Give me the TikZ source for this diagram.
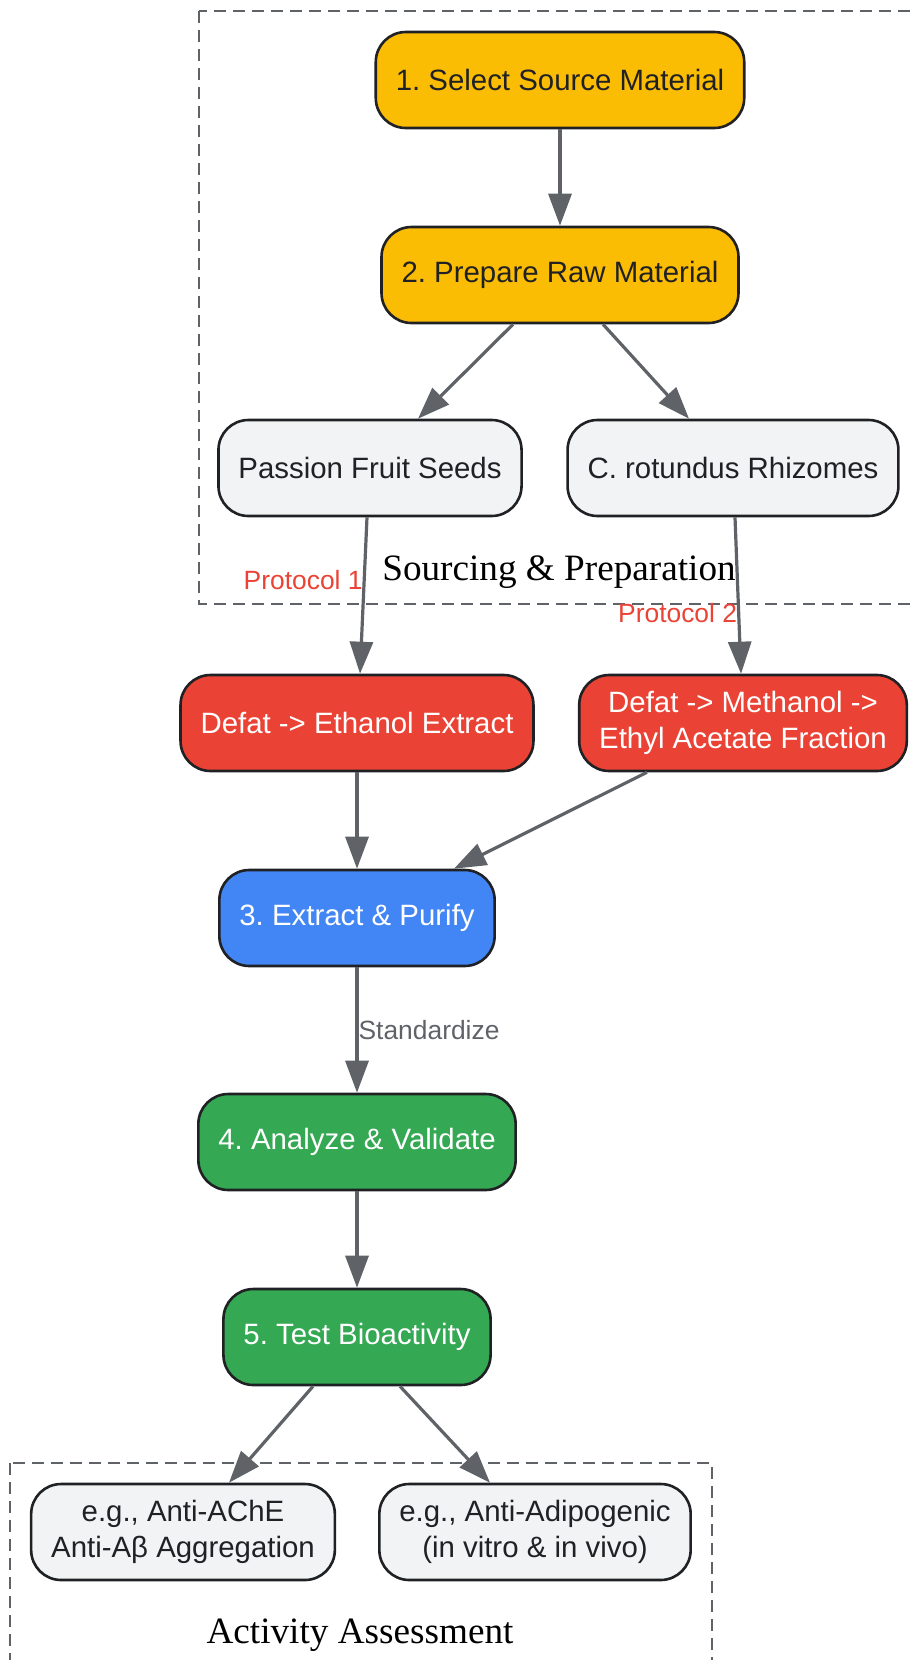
\documentclass[tikz,border=0pt]{standalone}
\usepackage{fontspec}
\setmainfont{Liberation Sans}
\newfontfamily\clusterfont{Liberation Serif}
\usetikzlibrary{positioning,arrows.meta}
\definecolor{gyellow}{HTML}{FBBC04}
\definecolor{gred}{HTML}{EA4335}
\definecolor{gblue}{HTML}{4285F4}
\definecolor{ggreen}{HTML}{34A853}
\definecolor{glight}{HTML}{F1F3F4}
\definecolor{gdark}{HTML}{202124}
\definecolor{ggray}{HTML}{5F6368}
\frenchspacing

\begin{document}
\begin{tikzpicture}[x=0.5pt, y=-0.5pt, node distance=97.5pt,
  box/.style={draw=gdark, line width=1.3pt, rounded corners=15pt, minimum height=48pt,
    inner xsep=10pt, align=center, font=\fontsize{14.7}{18}\selectfont, text=gdark},
  yellowbox/.style={box, fill=gyellow},
  lightbox/.style={box, fill=glight},
  redbox/.style={box, fill=gred, text=white},
  bluebox/.style={box, fill=gblue, text=white},
  greenbox/.style={box, fill=ggreen, text=white},
  link/.style={draw=ggray, line width=1.6pt, -{Triangle[length=16pt, width=11.5pt]}},
  elabel/.style={font=\fontsize{13.2}{16}\selectfont, inner sep=0pt},
  cluster/.style={draw=ggray, line width=1.1pt, dash pattern=on 6pt off 3.5pt},
  clabel/.style={font=\clusterfont\fontsize{18.6}{22}\selectfont}]

  \useasboundingbox (0,0) rectangle (914,1660);
  \clip (0,0) rectangle (914,1660);

  % clusters
  \draw[cluster] (199,11) rectangle (940,604);
  \draw[cluster] (10,1463) rectangle (712,1690);
  \node[clabel] (srclabel) at (559,572) {Sourcing \& Preparation};
  \node[clabel] (actlabel) at (360,1635) {Activity Assessment};

  % steps
  \node[yellowbox] (sel) at (560,80) {1. Select Source Material};
  \node[yellowbox] (prep) [below of=sel] {2. Prepare Raw Material};
  \node[lightbox] (seeds) at (370,468) {Passion Fruit Seeds};
  \node[lightbox] (rhiz) [node distance=181.5pt, right of=seeds] {C. rotundus Rhizomes};
  \node[redbox] (eth) at (357,723) {Defat -> Ethanol Extract};
  \node[redbox] (meth) [node distance=193pt, right of=eth] {Defat -> Methanol ->\\Ethyl Acetate Fraction};
  \node[bluebox] (purify) [below of=eth] {3. Extract \& Purify};
  \node[greenbox] (analyze) [node distance=112pt, below of=purify] {4. Analyze \& Validate};
  \node[greenbox] (test) [below of=analyze] {5. Test Bioactivity};
  \node[lightbox] (ache) at (183,1532) {e.g., Anti-AChE\\Anti-Aβ Aggregation};
  \node[lightbox] (adipo) [node distance=176pt, right of=ache] {e.g., Anti-Adipogenic\\(in vitro \& in vivo)};

  % connectors
  \draw[link] (sel) -- (prep);
  \draw[link] ([xshift=-23.5pt]prep.south) -- ([xshift=24pt]seeds.north);
  \draw[link] ([xshift=21.5pt]prep.south) -- ([xshift=-22pt]rhiz.north);
  \draw[link] ([xshift=-1.5pt]seeds.south) -- node[elabel, text=gred, pos=0.4, anchor=east] (prot1) {Protocol 1} ([xshift=1.5pt]eth.north);
  \draw[link] ([xshift=1pt]rhiz.south) -- node[elabel, text=gred, pos=0.61, anchor=east] (prot2) {Protocol 2} ([xshift=-1pt]meth.north);
  \draw[link] (eth) -- (purify);
  \draw[link] ([xshift=-48pt]meth.south) -- ([xshift=48.5pt]purify.north);
  \draw[link] (purify) -- node[elabel, text=ggray, pos=0.5, anchor=west] (std) {Standardize} (analyze);
  \draw[link] (analyze) -- (test);
  \draw[link] ([xshift=-22pt]test.south) -- ([xshift=23pt]ache.north);
  \draw[link] ([xshift=21.5pt]test.south) -- ([xshift=-22.5pt]adipo.north);
\end{tikzpicture}
\end{document}
